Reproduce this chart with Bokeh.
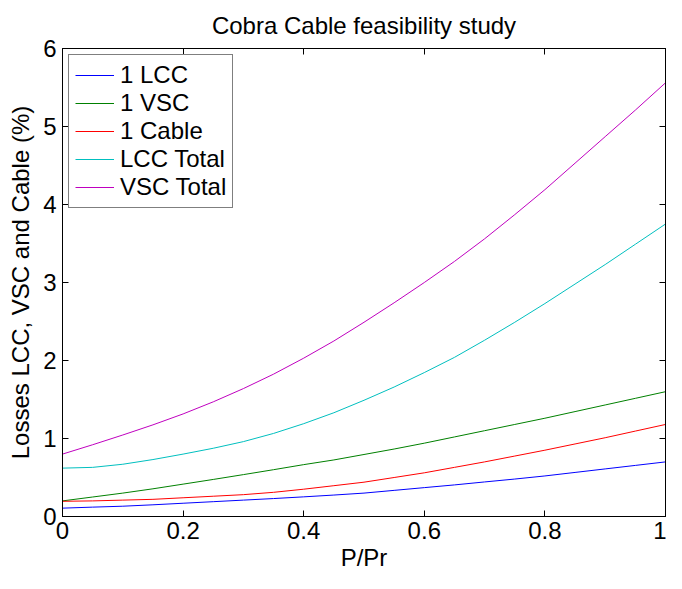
from bokeh.plotting import figure
from bokeh.models import LinearAxis, FixedTicker, CustomJSTickFormatter, Range1d
from bokeh.embed import file_html
from bokeh.resources import INLINE

# ---- data ----
p_pr = [0.0, 0.05, 0.1, 0.15, 0.2, 0.25, 0.3, 0.35, 0.4, 0.45, 0.5,
        0.55, 0.6, 0.65, 0.7, 0.75, 0.8, 0.85, 0.9, 0.95, 1.0]
lcc_1 = [0.107, 0.12, 0.132, 0.15, 0.17, 0.19, 0.21, 0.23, 0.252, 0.275, 0.30,
         0.335, 0.37, 0.405, 0.443, 0.48, 0.52, 0.565, 0.61, 0.655, 0.70]
vsc_1 = [0.20, 0.25, 0.30, 0.355, 0.415, 0.475, 0.537, 0.60, 0.665, 0.725, 0.795,
         0.865, 0.94, 1.02, 1.10, 1.18, 1.26, 1.345, 1.43, 1.515, 1.60]
cable_1 = [0.195, 0.20, 0.21, 0.22, 0.24, 0.26, 0.28, 0.31, 0.35, 0.395, 0.44,
           0.50, 0.56, 0.63, 0.70, 0.775, 0.85, 0.93, 1.01, 1.095, 1.18]
lcc_total = [0.62, 0.63, 0.67, 0.73, 0.80, 0.875, 0.96, 1.065, 1.19, 1.33, 1.49,
             1.66, 1.845, 2.04, 2.26, 2.49, 2.73, 2.98, 3.23, 3.49, 3.75]
vsc_total = [0.80, 0.92, 1.045, 1.175, 1.315, 1.47, 1.64, 1.825, 2.03, 2.25, 2.49,
             2.74, 3.00, 3.27, 3.56, 3.87, 4.19, 4.53, 4.87, 5.21, 5.56]

series_names = ["1 LCC", "1 VSC", "1 Cable", "LCC Total", "VSC Total"]
series_values = [lcc_1, vsc_1, cable_1, lcc_total, vsc_total]
series_colors = ["#0000ff", "#008000", "#ff0000", "#00bfbf", "#bf00bf"]

x_ticks = [0, 0.2, 0.4, 0.6, 0.8, 1.0]
y_ticks = [0, 1, 2, 3, 4, 5, 6]

FONT = "Liberation Sans"
FS = "24px"

p = figure(width=666, height=573, output_backend="svg", toolbar_location=None,
           x_range=Range1d(0, 1), y_range=Range1d(0, 6),
           min_border_left=62, min_border_right=1, min_border_top=45, min_border_bottom=56,
           title="Cobra Cable feasibility study",
           x_axis_label="P/Pr", y_axis_label="Losses LCC, VSC and Cable (%)")

p.xgrid.visible = False
p.ygrid.visible = False
p.outline_line_color = "black"
p.background_fill_color = "white"
p.border_fill_color = "white"

for name, vals, col in zip(series_names, series_values, series_colors):
    p.line(p_pr, vals, line_color=col, line_width=1, legend_label=name)

def style_axis(ax, ticks, show_labels=True):
    ax.ticker = FixedTicker(ticks=ticks)
    ax.major_tick_in = 6
    ax.major_tick_out = 0
    ax.minor_tick_in = 0
    ax.minor_tick_out = 0
    ax.major_tick_line_color = "black"
    ax.axis_line_color = "black"
    ax.axis_line_width = 1
    if show_labels:
        ax.major_label_text_font = FONT
        ax.major_label_text_font_size = FS
        ax.major_label_text_color = "black"
        ax.axis_label_text_font = FONT
        ax.axis_label_text_font_size = FS
        ax.axis_label_text_font_style = "normal"
        ax.axis_label_text_color = "black"
    else:
        ax.formatter = CustomJSTickFormatter(code="return '';")
        ax.major_label_text_font_size = "1px"
        ax.major_label_standoff = 0

xa = p.xaxis[0]
ya = p.yaxis[0]
style_axis(xa, x_ticks)
style_axis(ya, y_ticks)
xa.major_label_standoff = 5
xa.axis_label_standoff = 2
ya.major_label_standoff = 6
ya.axis_label_standoff = 6

top_ax = LinearAxis()
style_axis(top_ax, x_ticks, show_labels=False)
p.add_layout(top_ax, "above")
right_ax = LinearAxis()
style_axis(right_ax, y_ticks, show_labels=False)
p.add_layout(right_ax, "right")

p.title.text_font = FONT
p.title.text_font_size = FS
p.title.text_font_style = "normal"
p.title.align = "center"
p.title.text_color = "black"
p.title.standoff = 19

lg = p.legend[0]
lg.location = "top_left"
lg.margin = 6
lg.padding = 6
lg.spacing = 0
lg.glyph_width = 39
lg.glyph_height = 28
lg.label_height = 28
lg.label_standoff = 6
lg.label_text_font = FONT
lg.label_text_font_size = FS
lg.label_text_color = "black"
lg.border_line_color = "black"
lg.border_line_width = 1
lg.background_fill_color = "white"
lg.background_fill_alpha = 1

open("out.html", "w").write(file_html(p, INLINE))
